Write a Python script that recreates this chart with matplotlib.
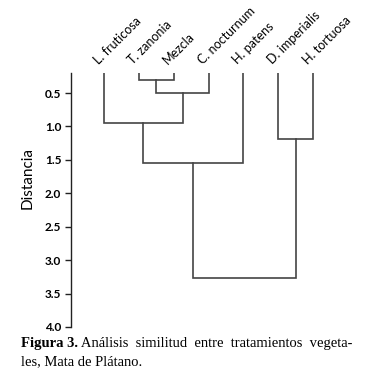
import matplotlib.pyplot as plt

# Hojas del dendrograma (en orden de izquierda a derecha)
leaves = ['L. fruticosa', 'T. zanonia', 'Mezcla', 'C. nocturnum',
          'H. patens', 'D. imperialis', 'H. tortuosa']

# Fusiones: nodo izquierdo, nodo derecho, distancia (nuevos nodos 7, 8, ...)
merge_left = [1, 7, 0, 9, 5, 10]
merge_right = [2, 3, 8, 4, 6, 11]
merge_height = [0.31, 0.50, 0.95, 1.55, 1.19, 3.27]

yticks = [0.5, 1.0, 1.5, 2.0, 2.5, 3.0, 3.5, 4.0]

fig = plt.figure(figsize=(3.88, 3.78), dpi=100)
ax = fig.add_axes([0.183, 0.135, 0.693, 0.672])

line_color = '#444444'

# posiciones x y alturas de cada nodo
pos = {i: float(i) for i in range(len(leaves))}
hgt = {i: 0.0 for i in range(len(leaves))}

for k, (a, b, h) in enumerate(zip(merge_left, merge_right, merge_height)):
    xa, xb = pos[a], pos[b]
    ax.plot([xa, xa, xb, xb], [hgt[a], h, h, hgt[b]],
            color=line_color, lw=1.2, solid_joinstyle='miter')
    node = len(leaves) + k
    pos[node] = (xa + xb) / 2
    hgt[node] = h

ax.set_ylim(4.0, 0.2)
ax.set_xlim(-0.956, 6.77)

for i, name in enumerate(leaves):
    ax.annotate(name, xy=(i, 0.2), xytext=(-3, 5), textcoords='offset points',
                rotation=45, rotation_mode='anchor', ha='left', va='bottom',
                fontsize=9, family='Lato', annotation_clip=False)

ax.set_yticks(yticks)
ax.set_yticklabels([f'{t:.1f}' for t in yticks], fontweight='bold',
                   family='Lato', fontsize=8.5)
ax.tick_params(axis='y', length=4, width=1, color='#222222', pad=3)
ax.set_xticks([])
for s in ['top', 'right', 'bottom']:
    ax.spines[s].set_visible(False)
ax.spines['left'].set_color('#222222')
ax.spines['left'].set_linewidth(1)

ax.set_ylabel('Distancia', family='Lato', fontsize=11)
ax.yaxis.set_label_coords(-0.137, 0.585)

# Pie de figura
t1 = fig.text(0.053, 1 - 346.5 / 378, 'Figura 3.', family='Liberation Serif',
              fontweight='bold', fontsize=10.5, va='baseline')
ax.annotate(' Análisis  similitud  entre  tratamientos  vegeta-', xy=(1, 0),
            xycoords=t1, va='bottom', family='Liberation Serif', fontsize=10.5)
fig.text(0.053, 1 - 365 / 378, 'les, Mata de Plátano.', family='Liberation Serif',
         fontsize=10.5, va='baseline')

fig.savefig('out.png', dpi=100)
